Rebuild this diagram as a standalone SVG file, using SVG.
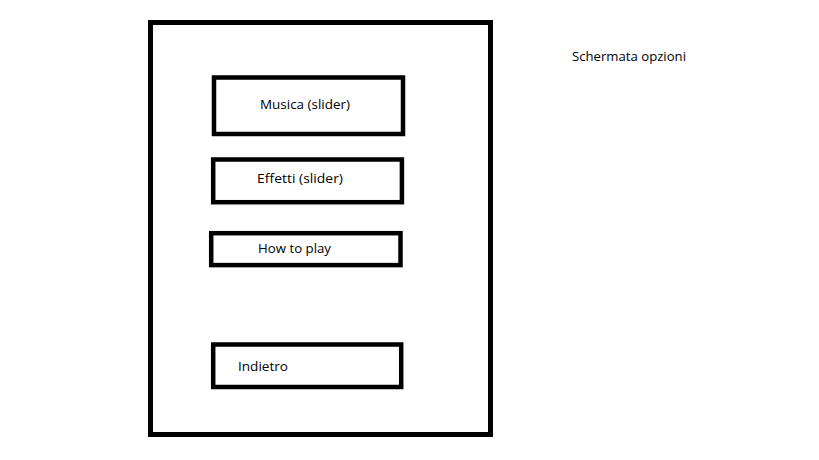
<svg xmlns="http://www.w3.org/2000/svg" width="819" height="460" viewBox="0 0 819 460">
<style>
.box{fill:none;stroke:#000;stroke-width:4.5}
.lbl{font-family:"Open Sans","Noto Sans","Liberation Sans",sans-serif;font-size:13px;fill:#000}
</style>
<rect width="819" height="460" fill="#fff"/>
<g id="screen"><rect class="box" x="150.5" y="22.5" width="340" height="412" style="stroke-width:5"/></g>
<g id="musica"><rect class="box" x="214" y="77.5" width="189" height="56.5"/><text class="lbl" x="260" y="109" textLength="90" lengthAdjust="spacingAndGlyphs">Musica (slider)</text></g>
<g id="effetti"><rect class="box" x="213.2" y="159.5" width="188.7" height="42.7"/><text class="lbl" x="257" y="183" textLength="86" lengthAdjust="spacingAndGlyphs">Effetti (slider)</text></g>
<g id="howtoplay"><rect class="box" x="211.2" y="233.2" width="189.3" height="31.9"/><text class="lbl" x="258" y="253" textLength="73" lengthAdjust="spacingAndGlyphs">How to play</text></g>
<g id="indietro"><rect class="box" x="213.2" y="344.5" width="188" height="42.5"/><text class="lbl" x="238" y="371" textLength="50" lengthAdjust="spacingAndGlyphs">Indietro</text></g>
<g id="title"><text class="lbl" x="572" y="61" textLength="114" lengthAdjust="spacingAndGlyphs">Schermata opzioni</text></g>
<g id="connectors"/>
</svg>
